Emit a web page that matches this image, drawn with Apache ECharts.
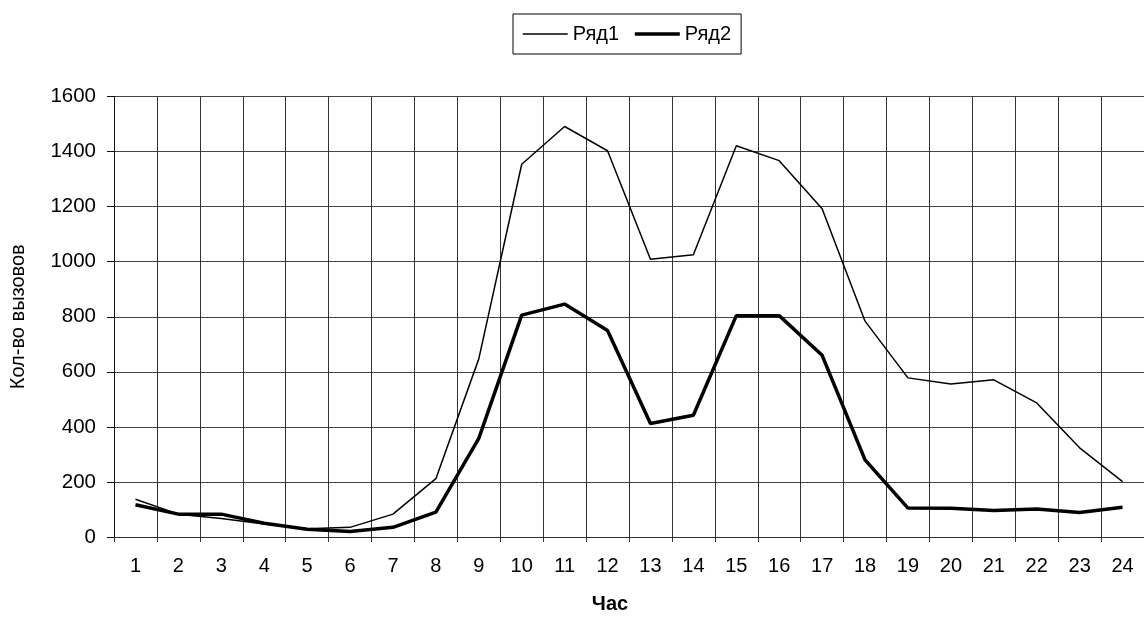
<!DOCTYPE html>
<html>
<head>
<meta charset="utf-8">
<script src="https://cdn.jsdelivr.net/npm/echarts@6/dist/echarts.min.js"></script>
<style>
  html, body { margin: 0; padding: 0; background: #fff; }
  #chart { width: 1144px; height: 619px; }
</style>
</head>
<body>
<div id="chart"></div>
<script>
// Hours of the day
const hours = ['1','2','3','4','5','6','7','8','9','10','11','12',
               '13','14','15','16','17','18','19','20','21','22','23','24'];
// Call counts per hour
const series1 = [137, 83, 67, 47, 30, 35, 83, 212, 647, 1354, 1491, 1403,
                 1009, 1025, 1421, 1367, 1192, 784, 578, 556, 571, 487, 324, 201];
const series2 = [117, 83, 83, 50, 28, 20, 35, 90, 358, 806, 846, 750,
                 412, 442, 804, 804, 660, 280, 105, 104, 96, 102, 89, 108];
const seriesNames = ['Ряд1', 'Ряд2'];
const lineWidths = [1.5, 3.5];

const font = '"Liberation Sans", Arial, sans-serif';
const chart = echarts.init(document.getElementById('chart'), null, { renderer: 'canvas' });

chart.setOption({
  animation: false,
  backgroundColor: '#fff',
  textStyle: { fontFamily: font, color: '#000' },
  legend: {
    data: seriesNames.map((n, i) => ({ name: n, lineStyle: { color: '#000', width: lineWidths[i] } })),
    left: 513,
    top: 14,
    padding: [10, 10, 10, 9],
    borderColor: '#000',
    borderWidth: 1,
    itemWidth: 45,
    itemHeight: 12,
    itemGap: 14,
    itemStyle: { color: 'transparent', borderWidth: 0, opacity: 0 },
    textStyle: { fontFamily: font, fontSize: 20, color: '#000' }
  },
  grid: { left: 110.5, right: -6, top: 96.5, bottom: 80, containLabel: false },
  xAxis: {
    type: 'category',
    data: hours,
    boundaryGap: true,
    name: 'Час',
    nameLocation: 'middle',
    nameGap: 57,
    nameTextStyle: { fontFamily: font, fontSize: 20, fontWeight: 'bold', color: '#000', padding: [0, 38, 0, 0] },
    axisLine: { lineStyle: { color: '#333', width: 1 } },
    axisTick: { show: true, length: 5, lineStyle: { color: '#333' } },
    axisLabel: { fontFamily: font, fontSize: 20, color: '#000', margin: 19, interval: 0 },
    splitLine: { show: true, interval: 0, lineStyle: { color: '#333', width: 1 } }
  },
  yAxis: {
    type: 'value',
    min: 0,
    max: 1600,
    interval: 200,
    name: 'Кол-во вызовов',
    nameLocation: 'middle',
    nameRotate: 90,
    nameGap: 86,
    nameTextStyle: { fontFamily: font, fontSize: 20, color: '#000' },
    axisLine: { show: true, lineStyle: { color: '#111', width: 1 } },
    axisTick: { show: true, inside: false, length: 7, lineStyle: { color: '#111' } },
    axisLabel: { fontFamily: font, fontSize: 20.5, color: '#000', margin: 18, formatter: v => String(v) },
    splitLine: { show: true, lineStyle: { color: '#444', width: 1 } }
  },
  series: [
    {
      name: seriesNames[0],
      type: 'line',
      data: series1,
      symbol: 'none',
      lineStyle: { color: '#000', width: lineWidths[0] },
      itemStyle: { color: '#000' }
    },
    {
      name: seriesNames[1],
      type: 'line',
      data: series2,
      symbol: 'none',
      lineStyle: { color: '#000', width: lineWidths[1] },
      itemStyle: { color: '#000' }
    }
  ]
});
</script>
</body>
</html>
